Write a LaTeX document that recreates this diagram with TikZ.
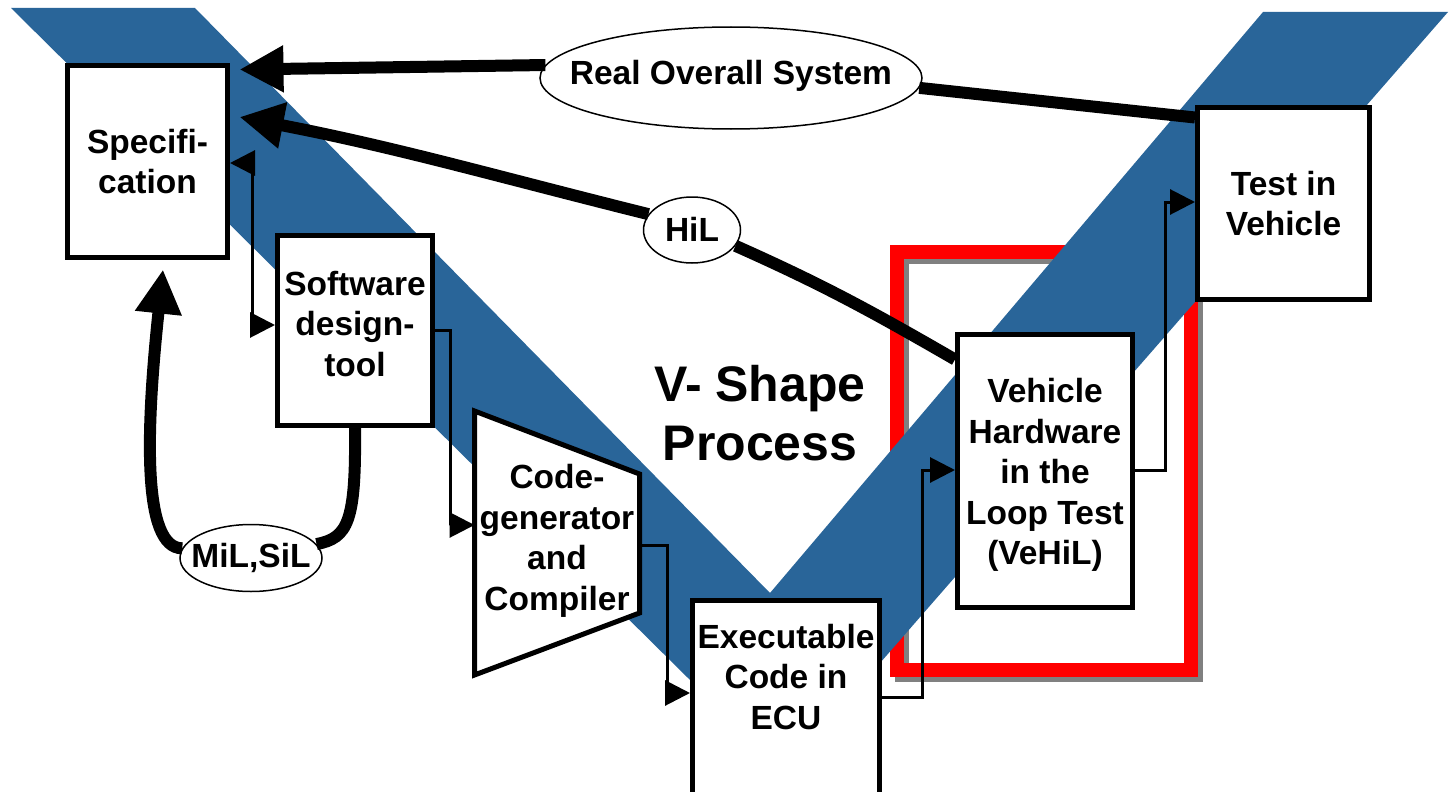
\documentclass[tikz,border=0pt]{standalone}
\usepackage{fontspec}
\setmainfont{Liberation Sans}
\usetikzlibrary{shapes.geometric,arrows.meta}
\definecolor{vblue}{RGB}{41,101,153}

\begin{document}
\begin{tikzpicture}[x=1pt,y=-1pt]
				\tikzstyle{block}=[draw,line width=5pt,fill=white,inner sep=0pt,align=center,font={\fontsize{33.5}{40.5}\selectfont\bfseries}]
				\tikzstyle{blocktext}=[inner sep=0pt,align=center,font={\fontsize{33.5}{40.5}\selectfont\bfseries}]
				\tikzstyle{bubble}=[ellipse,draw,line width=1.5pt,fill=white,inner sep=0pt]
				\tikzstyle{bigline}=[line width=12pt]
				\tikzstyle{bigarrow}=[line width=12pt,-{Triangle[length=44pt,width=44pt]}]
				\tikzstyle{smallarrow}=[line width=3pt,-{Triangle[length=25pt,width=25pt]}]
				\fill[white] (0,0) rectangle (1449,792);
				\clip (0,0) rectangle (1449,792);
				\draw[gray,line width=14pt] (902,257) rectangle (1196,675);
				\draw[red,line width=14pt] (897,252) rectangle (1191,670);
				\fill[vblue] (11,8) -- (195,8) -- (770,593) -- (1263,12) -- (1448,12) -- (784,773) -- cycle;
				\node[block,minimum width=160pt,minimum height=192pt] (spec) at (147.5,161.5) {Specifi-\\cation};
				\node[block,minimum width=155pt,minimum height=190pt] (sw) at (355,330.5) {};
				\node[blocktext] (swtext) at (355,324) {Software\\design-\\tool};
				\draw[line width=5pt,fill=white] (474.5,411) -- (639.5,474) -- (639.5,613) -- (474.5,675) -- cycle;
				\node[blocktext] (codegen) at (557,541) {Code-\\generator\\and\\Compiler};
				\coordinate (cgin) at (474.5,525);
				\coordinate (cgout) at (639.5,545);
				\node[block,minimum width=187pt,minimum height=210pt] (exe) at (786,705.5) {};
				\node[blocktext] (exetext) at (786,677) {Executable\\Code in\\ECU};
				\node[block,minimum width=175pt,minimum height=273pt] (veh) at (1045,471) {};
				\node[blocktext] (vehtext) at (1045,475) {Vehicle\\Hardware\\in the\\Loop Test\\(VeHiL)};
				\node[block,minimum width=172pt,minimum height=192pt] (tiv) at (1283.5,203.5) {Test in\\Vehicle};
				\node[bubble,minimum width=382pt,minimum height=102pt] (ros) at (731,78) {};
				\node[blocktext] (rostext) at (731,76) {Real Overall System};
				\node[bubble,minimum width=97pt,minimum height=66pt] (hil) at (692,230) {};
				\node[blocktext] (hiltext) at (692,229) {HiL};
				\node[bubble,minimum width=142pt,minimum height=67pt] (mil) at (251,558) {};
				\node[blocktext] (miltext) at (251,558) {MiL,SiL};
				\node[inner sep=0pt,align=center,font={\fontsize{50}{59}\selectfont\bfseries}] (title) at (760,413) {V- Shape\\Process};
				\draw[bigline] ([yshift=-12.5pt]tiv.north west) -- (ros.-3);
				\draw[bigarrow] (ros.176) -- ([xshift=9.5pt,yshift=-6.5pt]spec.north east);
				\draw[bigline] ([yshift=-27.5pt]veh.north west) to[out=150,in=-24] (hil.-20);
				\draw[bigarrow] (hil.160) to[out=166,in=-11] ([xshift=9.5pt,yshift=44.5pt]spec.east);
				\draw[bigline] (sw.south) .. controls (356,522) and (348,538) .. (mil.12);
				\draw[bigarrow] (mil.172) .. controls (142,548) and (146,430) .. ([xshift=15.5pt,yshift=-9.5pt]spec.south);
				\draw[smallarrow,{Triangle[length=25pt,width=25pt]}-{Triangle[length=25pt,width=25pt]}] ([yshift=-1.5pt]spec.east) -- ++(22,0) |- ([yshift=5.5pt]sw.west);
				\draw[smallarrow] (sw.east) -- ++(15.5,0) |- (cgin);
				\draw[smallarrow] (cgout) -- ++(27.5,0) |- ([yshift=12.5pt]exe.west);
				\draw[smallarrow] ([yshift=8.5pt]exe.east) -- ++(40.5,0) |- ([yshift=1pt]veh.west);
				\draw[smallarrow] ([yshift=1pt]veh.east) -- ++(30.5,0) |- ([yshift=1.5pt]tiv.west);
\end{tikzpicture}
\end{document}
